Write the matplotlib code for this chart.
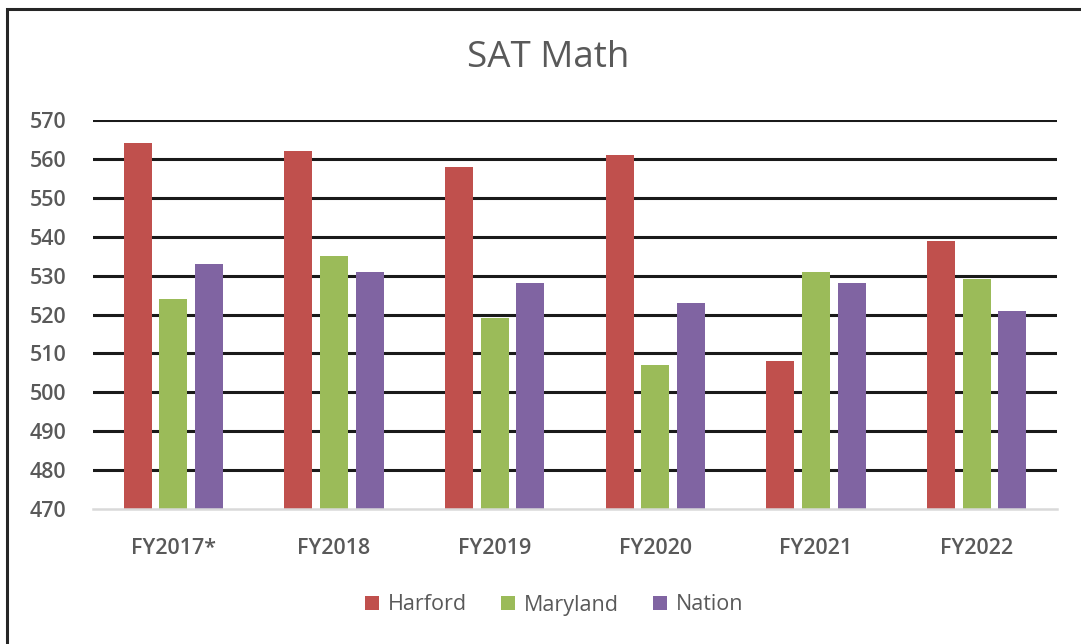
import matplotlib
matplotlib.use("Agg")
import matplotlib.pyplot as plt
import numpy as np
from matplotlib.patches import Rectangle, Patch

plt.rcParams['font.family'] = ['Open Sans', 'DejaVu Sans']

categories = ["FY2017*", "FY2018", "FY2019", "FY2020", "FY2021", "FY2022"]
harford = [564, 562, 558, 561, 508, 539]
maryland = [524, 535, 519, 507, 531, 529]
nation = [533, 531, 528, 523, 528, 521]
series_names = ["Harford", "Maryland", "Nation"]
colors = ["#C0504D", "#9BBB59", "#8064A2"]
yticks = list(range(470, 571, 10))

W, H = 1081, 644
fig = plt.figure(figsize=(W / 100, H / 100), dpi=100)
fig.patch.set_facecolor("white")

ax = fig.add_axes([93 / W, 1 - 509 / H, (1057 - 93) / W, (509 - 120) / H])
x = np.arange(len(categories))
bw = 0.175
off = 0.222
for i, (vals, name, c) in enumerate(zip([harford, maryland, nation], series_names, colors)):
    ax.bar(x + (i - 1) * off, np.array(vals) - 470, bottom=470, width=bw, color=c,
           zorder=3, label=name)

ax.set_xlim(-0.5, len(categories) - 0.5)
ax.set_ylim(470, 570)
ax.set_yticks(yticks)
ax.set_yticklabels([str(t) for t in yticks])
for t in yticks[1:]:
    ax.axhline(t, color="#1a1a1a", lw=2.2, zorder=1)
for s in ["top", "right", "left"]:
    ax.spines[s].set_visible(False)
ax.spines["bottom"].set_color("#d9d9d9")
ax.spines["bottom"].set_linewidth(1.8)
ax.spines["bottom"].set_zorder(4)
ax.set_xticks(x)
ax.set_xticklabels(categories)
ax.tick_params(axis="both", length=0, labelsize=15.5, labelcolor="#595959")
for lab in ax.get_xticklabels() + ax.get_yticklabels():
    lab.set_fontweight("semibold")
ax.tick_params(axis="y", pad=19)
ax.tick_params(axis="x", pad=21)
ax.set_facecolor("white")

fig.text(548 / W, 1 - 58 / H, "SAT Math", ha="center", va="center", fontsize=26.5, color="#595959")

handles = [Patch(facecolor=c, label=n) for c, n in zip(colors, series_names)]
fig.legend(handles=handles, loc="center", bbox_to_anchor=(554 / W, 1 - 605 / H), ncol=3,
           frameon=False, fontsize=15.5, labelcolor="#595959", handlelength=0.65,
           handleheight=0.65, handletextpad=0.4, columnspacing=1.6)

fig.add_artist(Rectangle((7.5 / W, -0.05), 1.2, 1 - 8.5 / H + 0.05, transform=fig.transFigure,
                         fill=False, edgecolor="#262626", lw=2.2))

fig.savefig("out.png", dpi=100)
